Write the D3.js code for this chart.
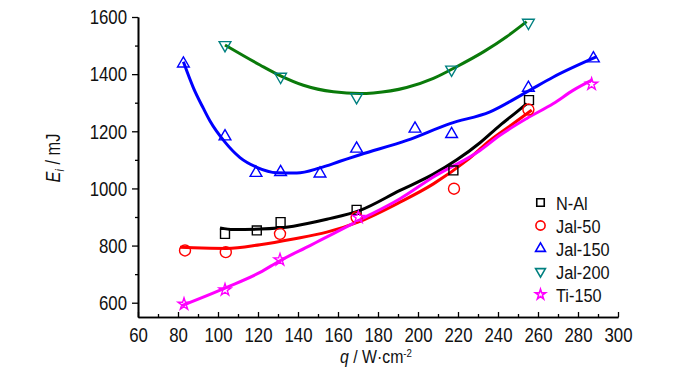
<!DOCTYPE html>
<meta charset="utf-8">
<script src="https://d3js.org/d3.v7.min.js"></script>
<style>
    body { margin: 0; background: #fff; }
    text { font-family: "Liberation Sans", Arial, sans-serif; }
</style>
<div id="my_dataviz"></div>
<script>

    // measured points (q in W/cm2, Ei in mJ)
    var nalQ = [103.5, 119.4, 131.3, 169.3, 217.7, 255.5];
    var nalE = [841, 853, 882, 925, 1063, 1309];
    var jal50Q = [83.5, 103.9, 131, 169.3, 218, 255.2];
    var jal50E = [783, 777, 841, 899, 999, 1276];
    var jal150Q = [82.7, 103.5, 119, 131.3, 151, 169.3, 198.5, 216.8, 255.2, 287.7];
    var jal150E = [1437, 1182, 1054, 1057, 1052, 1139, 1209, 1190, 1352, 1455];
    var jal200Q = [103.5, 131.3, 169.3, 216.8, 255.2];
    var jal200E = [1502, 1391, 1320, 1416, 1580];
    var ti150Q = [83, 103.5, 131, 170.2, 286.8];
    var ti150E = [595, 645, 750, 899, 1365];

    // fitted curves
    var nalFitQ = [101, 107.7, 121, 137.7, 154.4, 171, 191, 207.7, 219.4, 231, 241, 249.4, 254.4];
    var nalFitE = [862, 856, 858, 868, 892, 923, 993, 1050, 1100, 1160, 1221, 1268, 1297];
    var jal50FitQ = [81, 87.7, 104.4, 121, 137.7, 154.4, 171, 191, 207.7, 224.4, 236, 247.7, 256.9];
    var jal50FitE = [794, 792, 790, 803, 823, 847, 885, 952, 1016, 1098, 1168, 1227, 1274];
    var jal150FitQ = [82.7, 87.7, 92.7, 96, 103.5, 111, 119.4, 129.4, 139.4, 151, 161, 171, 194.4, 216, 236, 254.4, 267.7, 289.4];
    var jal150FitE = [1443, 1352, 1280, 1236, 1162, 1108, 1074, 1055, 1054, 1072, 1095, 1118, 1168, 1227, 1268, 1338, 1390, 1461];
    var jal200FitQ = [103.5, 121, 131.3, 142.7, 157.7, 171, 177.7, 194.3, 207.7, 219.3, 232.7, 244.3, 254.3];
    var jal200FitE = [1502, 1432, 1394, 1361, 1338, 1332, 1334, 1353, 1385, 1426, 1478, 1531, 1584];
    var ti150FitQ = [81.9, 104.4, 121, 131, 146, 151, 171, 191, 207.7, 231, 241, 254.4, 267.7, 277.7, 286.9];
    var ti150FitE = [590, 654, 706, 747, 800, 818, 890, 964, 1040, 1133, 1186, 1245, 1297, 1344, 1379];

    var seriesNames = ["N-Al", "Jal-50", "Jal-150", "Jal-200", "Ti-150"];
    var xTicks = [60, 80, 100, 120, 140, 160, 180, 200, 220, 240, 260, 280, 300];
    var yTicks = [600, 800, 1000, 1200, 1400, 1600];

    var zip = function (a, b) { return a.map(function (v, i) { return [v, b[i]]; }); };

    var series = [
        { name: seriesNames[0], pts: zip(nalQ, nalE), fit: zip(nalFitQ, nalFitE), line: "#000000", mark: "#000000", sym: d3.symbolSquare, size: 80, rot: 0 },
        { name: seriesNames[1], pts: zip(jal50Q, jal50E), fit: zip(jal50FitQ, jal50FitE), line: "#ff0000", mark: "#ff0000", sym: d3.symbolCircle, size: 95, rot: 0 },
        { name: seriesNames[2], pts: zip(jal150Q, jal150E), fit: zip(jal150FitQ, jal150FitE), line: "#0000ff", mark: "#0000ff", sym: d3.symbolTriangle, size: 60, rot: 0 },
        { name: seriesNames[3], pts: zip(jal200Q, jal200E), fit: zip(jal200FitQ, jal200FitE), line: "#0a7a0a", mark: "#008080", sym: d3.symbolTriangle, size: 60, rot: 180 },
        { name: seriesNames[4], pts: zip(ti150Q, ti150E), fit: zip(ti150FitQ, ti150FitE), line: "#ff00ff", mark: "#ff00ff", sym: d3.symbolStar, size: 45, rot: 0 }
    ];

    // the original uses a narrow sans face: squeeze Liberation Sans horizontally
    var narrow = function (sel, origin, k) {
        sel.style("transform-box", "fill-box")
            .style("transform-origin", origin)
            .style("transform", "scaleX(" + k + ")");
    };

    var margin = { top: 17, right: 82, bottom: 56, left: 138 },
        width = 700 - margin.left - margin.right,
        height = 373 - margin.top - margin.bottom;

    var svg = d3.select("#my_dataviz")
        .append("svg")
        .attr("width", 700)
        .attr("height", 373)
        .append("g")
        .attr("transform", "translate(" + margin.left + "," + margin.top + ")");

    var x = d3.scaleLinear().domain([60, 300]).range([0, width]);
    var y = d3.scaleLinear().domain([550, 1600]).range([height, 0]);

    // X axis: ticks point inward
    svg.append("g")
        .attr("transform", "translate(0," + height + ")")
        .call(d3.axisBottom(x).tickValues(d3.range(70, 300, 20)).tickSize(-3).tickSizeOuter(0).tickFormat(""));
    svg.append("g")
        .attr("class", "xaxis")
        .attr("transform", "translate(0," + height + ")")
        .call(d3.axisBottom(x).tickValues(xTicks).tickSize(-5).tickSizeOuter(0).tickPadding(10).tickFormat(d3.format("d")));

    // Y axis
    svg.append("g")
        .call(d3.axisLeft(y).tickValues(d3.range(700, 1600, 200)).tickSize(3).tickSizeOuter(0).tickFormat(""));
    svg.append("g")
        .attr("class", "yaxis")
        .call(d3.axisLeft(y).tickValues(yTicks).tickSize(6).tickSizeOuter(0).tickPadding(5).tickFormat(d3.format("d")));

    svg.selectAll(".domain").attr("stroke", "#000").attr("stroke-width", 1.6);
    svg.selectAll(".tick line").attr("stroke", "#000").attr("stroke-width", 1.3);
    svg.selectAll(".tick text")
        .attr("font-size", "21px")
        .attr("fill", "#111")
        .style("font-family", "'Liberation Sans', Arial, sans-serif");
    narrow(svg.selectAll(".xaxis .tick text"), "center", 0.8);
    narrow(svg.selectAll(".yaxis .tick text"), "right center", 0.8);

    // fitted lines
    var line = d3.line()
        .curve(d3.curveMonotoneX)
        .x(function (d) { return x(d[0]); })
        .y(function (d) { return y(d[1]); });

    series.forEach(function (s) {
        svg.append("path")
            .datum(s.fit)
            .attr("fill", "none")
            .attr("stroke", s.line)
            .attr("stroke-width", 3)
            .attr("stroke-linejoin", "round")
            .attr("d", line);
    });

    // markers
    series.forEach(function (s) {
        svg.append("g")
            .selectAll("path")
            .data(s.pts)
            .enter()
            .append("path")
            .attr("d", d3.symbol().type(s.sym).size(s.size))
            .attr("transform", function (d) { return "translate(" + x(d[0]) + "," + y(d[1]) + ") rotate(" + s.rot + ")"; })
            .attr("fill", "none")
            .attr("stroke", s.mark)
            .attr("stroke-width", 1.4);
    });

    // legend
    var legend = svg.append("g")
        .attr("transform", "translate(" + (540.5 - margin.left) + "," + (202.5 - margin.top) + ")");
    series.forEach(function (s, i) {
        var row = legend.append("g").attr("transform", "translate(0," + (i * 23) + ")");
        row.append("path")
            .attr("d", d3.symbol().type(s.sym).size(s.size * 0.7))
            .attr("transform", "rotate(" + s.rot + ")")
            .attr("fill", "none")
            .attr("stroke", s.mark)
            .attr("stroke-width", 1.6);
        var t = row.append("text")
            .attr("x", 15.5)
            .attr("y", 7)
            .attr("font-size", "19px")
            .attr("fill", "#111")
            .text(s.name);
        narrow(t, "left center", 0.86);
    });

    // axis titles
    var yLab = svg.append("g")
        .attr("transform", "translate(" + (60 - margin.left) + "," + (158 - margin.top) + ") rotate(-90)")
        .append("text")
        .attr("text-anchor", "middle")
        .attr("font-size", "20px")
        .attr("fill", "#111");
    yLab.append("tspan").attr("font-style", "italic").text("E");
    yLab.append("tspan").attr("font-style", "italic").attr("font-size", "13px").attr("dy", 4).text("i");
    yLab.append("tspan").attr("dy", -4).text(" / mJ");
    narrow(yLab, "center", 0.82);

    var xLab = svg.append("text")
        .attr("x", 376 - margin.left)
        .attr("y", 363 - margin.top)
        .attr("text-anchor", "middle")
        .attr("font-size", "18px")
        .attr("fill", "#111");
    xLab.append("tspan").attr("font-style", "italic").text("q");
    xLab.append("tspan").text(" / W\u00b7cm");
    xLab.append("tspan").attr("font-size", "11px").attr("dy", -6).text("-2");
    narrow(xLab, "center", 0.88);

</script>
